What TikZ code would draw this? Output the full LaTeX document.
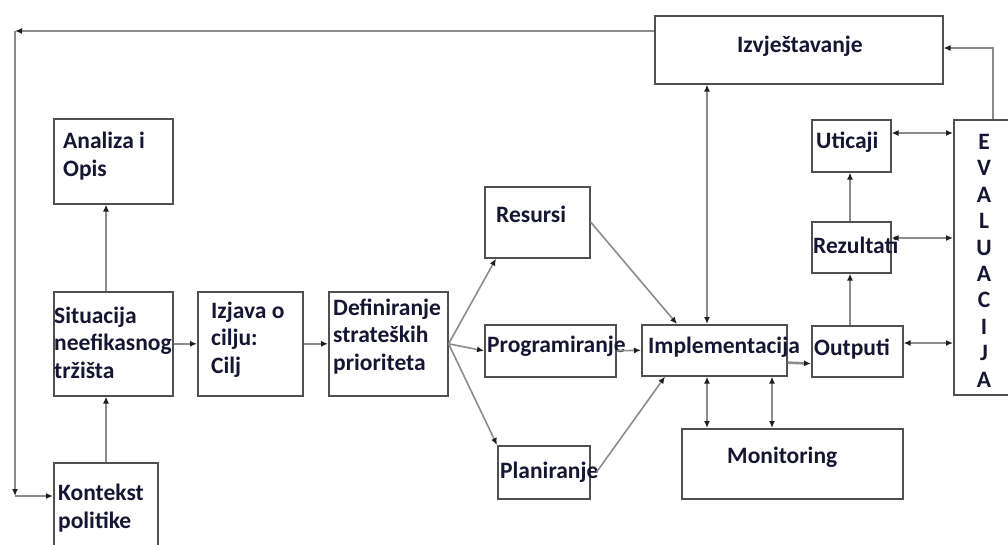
\documentclass[tikz,border=0pt]{standalone}
\usepackage{fontspec}
\setmainfont{Carlito}
\usetikzlibrary{arrows.meta,calc}
\definecolor{ink}{RGB}{22,22,52}
\definecolor{edge}{RGB}{80,80,80}
\definecolor{wire}{RGB}{140,140,140}
\definecolor{tipc}{RGB}{30,30,30}
\tikzset{
  >={Latex[length=7pt,width=6pt,color=tipc]},
  box/.style={draw=edge, line width=1.6pt, fill=white, inner sep=0pt, anchor=north west},
  txt/.style={text=ink, font=\bfseries\fontsize{23.5}{27.5}\selectfont, inner sep=0pt, anchor=base west, align=left},
  conn/.style={draw=wire, line width=1.6pt, ->},
  both/.style={draw=wire, line width=1.6pt, <->},
  heavy/.style={line width=2.6pt}
}
\begin{document}
\begin{tikzpicture}[x=1pt,y=-1pt]
\useasboundingbox (0,0) rectangle (1008,544);
\clip (0,0) rectangle (1008,544);

% boxes
\node[box, minimum width=119pt, minimum height=85pt] (ana) at (53,118) {};
\node[box, minimum width=119pt, minimum height=104pt] (sit) at (53,291) {};
\node[box, minimum width=105pt, minimum height=104pt] (izj) at (197,291) {};
\node[box, minimum width=119pt, minimum height=104pt] (def) at (328,291) {};
\node[box, minimum width=104pt, minimum height=110pt] (kon) at (53,462) {};
\node[box, minimum width=105pt, minimum height=71pt] (res) at (484,186) {};
\node[box, minimum width=131pt, minimum height=52pt] (prog) at (484,324) {};
\node[box, minimum width=92pt, minimum height=53pt] (plan) at (497,445) {};
\node[box, minimum width=145pt, minimum height=51pt] (impl) at (641,324) {};
\node[box, minimum width=221pt, minimum height=70pt] (mon) at (681,428) {};
\node[box, minimum width=288pt, minimum height=68pt] (izv) at (654,15) {};
\node[box, minimum width=79pt, minimum height=52pt] (uti) at (811,119) {};
\node[box, minimum width=79pt, minimum height=51pt] (rez) at (811,221) {};
\node[box, minimum width=91pt, minimum height=51pt] (out) at (811,325) {};
\node[box, minimum width=75pt, minimum height=275pt] (eva) at (953,119) {};

% labels (multi-line labels are placed by the baseline of their last line)
\node[txt] (t-ana) at (63,176) {Analiza i\\Opis};
\node[txt] (t-sit) at (54,378) {Situacija\\neefikasnog\\tržišta};
\node[txt] (t-izj) at (211,373) {Izjava o\\cilju:\\Cilj};
\node[txt] (t-def) at (333,370) {Definiranje\\strateških\\prioriteta};
\node[txt] (t-kon) at (58,528) {Kontekst\\politike};
\node[txt] (t-res) at (496,222) {Resursi};
\node[txt] (t-prog) at (487,352) {Programiranje};
\node[txt] (t-impl) at (648,353) {Implementacija};
\node[txt] (t-plan) at (500,478) {Planiranje};
\node[txt] (t-mon) at (727,463) {Monitoring};
\node[txt] (t-izv) at (737,52) {Izvještavanje};
\node[txt] (t-uti) at (816,148) {Uticaji};
\node[txt] (t-rez) at (813,253) {Rezultati};
\node[txt] (t-out) at (814,355) {Outputi};
\node[txt, align=center, anchor=base, font=\bfseries\fontsize{23.5}{26.4}\selectfont] (t-eva) at (984,387)
  {E\\V\\A\\L\\U\\A\\C\\I\\J\\A};

% feedback loop from reporting back to the policy context
\coordinate (fb1) at (15,31);
\coordinate (fb2) at (15,496);
\draw[conn, heavy] ($(izv.north west)+(0,16)$) -- (fb1);
\draw[conn] (fb1) -- (fb2);
\draw[conn] (fb2) -- (kon.west |- fb2);

% left chain
\draw[conn] (kon.north -| 106,0) -- (sit.south -| 106,0);
\draw[conn] (sit.north -| 106,0) -- (ana.south -| 106,0);
\draw[conn] (sit.east) -- (izj.west);
\draw[conn] (izj.east) -- (def.west);

% fan out of priorities
\draw[conn] (def.east) -- ($(res.south west)+(12,0)$);
\draw[conn] (def.east) -- (prog.west);
\draw[conn] (def.east) -- (plan.north west);

% into implementation
\draw[conn] ($(res.north east)+(0,36)$) -- ($(impl.north west)+(36,0)$);
\draw[conn] (prog.east) -- (impl.west);
\draw[conn] ($(plan.north east)+(6,27)$) -- ($(impl.south west)+(24,0)$);
\draw[both] ($(impl.north west)+(66,0)$) -- ($(izv.south west)+(53,0)$);
\draw[both] ($(impl.south west)+(66,0)$) -- ($(mon.north west)+(26,0)$);
\draw[both] ($(impl.south west)+(131,0)$) -- ($(mon.north west)+(91,0)$);
\draw[conn, heavy] ($(impl.south east)+(0,-14)$) -- ($(out.south west)+(0,-14)$);

% results chain
\draw[conn] (out.north -| 850,0) -- (rez.south -| 850,0);
\draw[conn] (rez.north -| 850,0) -- (uti.south -| 850,0);

% evaluation links
\draw[both, heavy] ($(uti.north east)+(0,14)$) -- ($(eva.north west)+(0,14)$);
\draw[both, heavy] ($(rez.north east)+(0,17)$) -- ($(eva.north west)+(0,119)$);
\draw[both] ($(out.north east)+(0,18)$) -- ($(eva.north west)+(0,224)$);
\draw[conn] ($(eva.north west)+(40,0)$) |- ($(izv.north east)+(0,33)$);
\end{tikzpicture}
\end{document}
